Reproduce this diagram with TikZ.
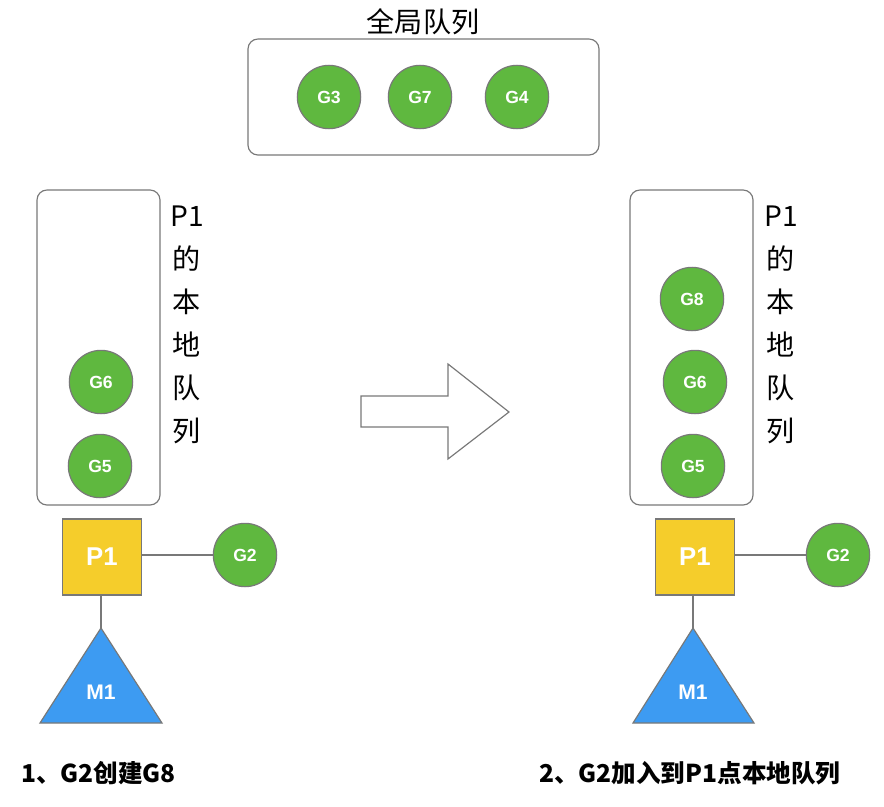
\documentclass[tikz,border=0pt]{standalone}
\usepackage{fontspec}
\setmainfont{Noto Sans CJK SC}
\newfontfamily\latinsans{Liberation Sans}
\usetikzlibrary{positioning}
\definecolor{gfill}{HTML}{5FB83F}
\definecolor{pfill}{HTML}{F5CD2B}
\definecolor{mfill}{HTML}{3D9BF2}
\definecolor{edgegray}{HTML}{787878}

\begin{document}
\begin{tikzpicture}[x=0.03cm,y=-0.03cm,
    queue/.style={draw=edgegray,line width=1pt,rounded corners=0.3cm,inner sep=0pt},
    gor/.style={circle,draw=edgegray,line width=1pt,fill=gfill,minimum size=1.9cm,inner sep=0pt,
      text=white,font=\latinsans\bfseries\fontsize{15}{17}\selectfont},
    proc/.style={draw=edgegray,line width=1pt,fill=pfill,minimum width=2.37cm,minimum height=2.28cm,
      inner sep=0pt,text=white,font=\latinsans\bfseries\fontsize{22}{24}\selectfont},
    mach/.style={text=white,font=\latinsans\bfseries\fontsize{18}{20}\selectfont},
    link/.style={draw=edgegray,line width=1pt},
    vlabel/.style={align=center,font=\fontsize{24}{36.7}\selectfont},
    caption/.style={anchor=west,font=\bfseries\fontsize{21}{25}\selectfont}]
  \useasboundingbox (0,0) rectangle (884,807);

  % global queue
  \node[font=\fontsize{24}{28}\selectfont] (gtitle) at (423,22) {全局队列};
  \node[queue,minimum width=10.53cm,minimum height=3.48cm] (global) at (423.5,97) {};
  \node[gor] (g3) at (329,97) {G3};
  \node[gor] (g7) at (420,97) {G7};
  \node[gor] (g4) at (517,97) {G4};

  % step 1
  \node[queue,minimum width=3.69cm,minimum height=9.45cm] (lqueue) at (98.5,347.5) {};
  \node[vlabel] (lqtext) at (187,325) {P1\\的\\本\\地\\队\\列};
  \node[gor] (lg6) at (101,382) {G6};
  \node[gor] (lg5) at (100,466) {G5};
  \node[proc] (lp1) at (102,557) {P1};
  \node[gor] (lg2) at (245,555) {G2};
  \coordinate (lm1top) at (101,628);
  \draw[link,fill=mfill] (lm1top) -- (162,723) -- (40,723) -- cycle;
  \node[mach] (lm1) at (101,692) {M1};
  \draw[link] (lp1.east |- lg2) -- (lg2);
  \draw[link] (lp1.south -| lm1top) -- (lm1top);
  \node[caption] (lcap) at (17,773) {1、G2创建G8};

  % hollow arrow
  \draw[link,fill=white] (361,396) -- (448,396) -- (448,364) -- (509,412)
    -- (448,459) -- (448,427) -- (361,427) -- cycle;

  % step 2
  \node[queue,minimum width=3.69cm,minimum height=9.45cm] (rqueue) at (691.5,347.5) {};
  \node[vlabel] (rqtext) at (781,325) {P1\\的\\本\\地\\队\\列};
  \node[gor] (rg8) at (692,299) {G8};
  \node[gor] (rg6) at (695,382) {G6};
  \node[gor] (rg5) at (693,466) {G5};
  \node[proc] (rp1) at (695,557) {P1};
  \node[gor] (rg2) at (838,555) {G2};
  \coordinate (rm1top) at (693,628);
  \draw[link,fill=mfill] (rm1top) -- (754,723) -- (633,723) -- cycle;
  \node[mach] (rm1) at (693,692) {M1};
  \draw[link] (rp1.east |- rg2) -- (rg2);
  \draw[link] (rp1.south -| rm1top) -- (rm1top);
  \node[caption] (rcap) at (535,773) {2、G2加入到P1点本地队列};
\end{tikzpicture}
\end{document}
